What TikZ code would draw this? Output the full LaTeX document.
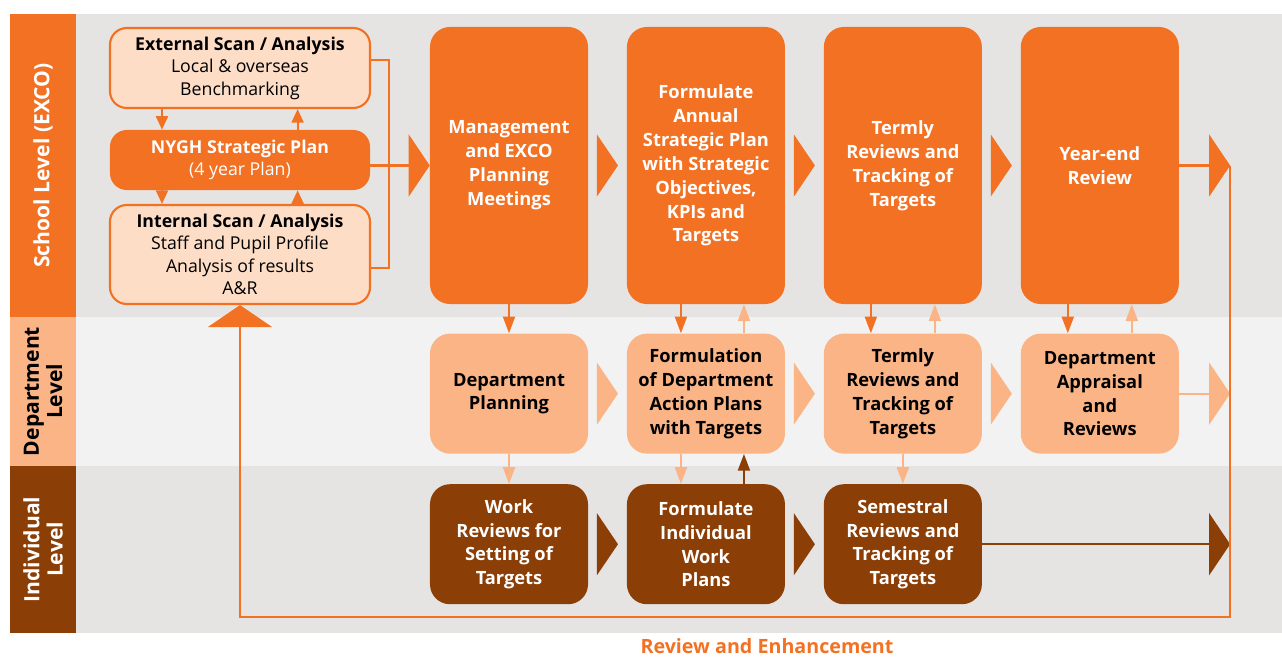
\documentclass[tikz,border=0pt]{standalone}
\usepackage{fontspec}
\setmainfont{Open Sans}
\usepackage{xcolor}
\definecolor{nyorange}{RGB}{243,113,35}
\definecolor{nylight}{RGB}{250,180,133}
\definecolor{nypeach}{RGB}{253,221,198}
\definecolor{nybrown}{RGB}{139,62,5}
\definecolor{bandgray}{RGB}{229,228,226}
\definecolor{bandlight}{RGB}{242,242,242}
\usepackage{tikz}
\usetikzlibrary{arrows.meta,positioning,calc}
\tikzset{
  lvl_tag/.style={rectangle,rotate=90,align=center,inner sep=0pt,
    font=\fontsize{15}{16.5}\selectfont\bfseries},
  scan_box/.style={rectangle,rounded corners=0.42cm,
    draw=nyorange,line width=1.5pt,fill=nypeach,
    minimum width=6.5cm,align=center,inner sep=2pt,
    font=\fontsize{12.6}{16}\selectfont},
  plan_box/.style={rectangle,rounded corners=0.42cm,
    fill=nyorange,text=white,
    minimum width=6.5cm,minimum height=1.5cm,align=center,
    font=\fontsize{12.6}{16}\selectfont},
  top_box/.style={rectangle,rounded corners=0.5cm,
    fill=nyorange,text=white,
    minimum width=3.95cm,minimum height=6.925cm,align=center,
    font=\fontsize{13}{17}\selectfont\bfseries},
  dept_box/.style={top_box,fill=nylight,text=black,minimum height=3cm},
  ind_box/.style={top_box,fill=nybrown,text=white,minimum height=3cm},
  sm_arr/.style={-{Triangle[length=#1,width=0.3cm]},line width=1.5pt},
  sm_arr/.default=0.42cm,
  big_arr/.style={-{Triangle[length=0.525cm,width=1.55cm]},line width=1.5pt},
  fb_line/.style={draw=nyorange,line width=1.5pt},
}
% filled chevron half way between two nodes
\newcommand{\chevto}[3]{%
  \fill[#1] ($(#2.east)!0.5!(#3.west)$) ++(-10.5,-31) -- ++(21,31) -- ++(-21,31) -- cycle;}

\begin{document}
\begin{tikzpicture}[x=0.025cm,y=-0.025cm]
  \useasboundingbox (0,0) rectangle (1282,657);
  % level bands
  \fill[bandgray]  (76,14)  rectangle (1282,317);
  \fill[bandlight] (76,317) rectangle (1282,466);
  \fill[bandgray]  (76,466) rectangle (1282,633);
  \node (lv_school) [lvl_tag,fill=nyorange,text=white,
    minimum width=7.575cm,minimum height=1.65cm] at (43,165.5) {School Level (EXCO)};
  \node (lv_dept) [lvl_tag,fill=nylight,text=black,
    minimum width=3.725cm,minimum height=1.65cm] at (43,391.5) {Department\\Level};
  \node (lv_ind) [lvl_tag,fill=nybrown,text=white,
    minimum width=4.175cm,minimum height=1.65cm] at (43,549.5) {Individual\\Level};

  % scans and strategic plan
  \node (ext) [scan_box,minimum height=2cm] at (240,68)
    {\textbf{External Scan / Analysis}\\Local \& overseas\\Benchmarking};
  \node (nygh) [plan_box] at (240,160)
    {\textbf{NYGH Strategic Plan}\\(4 year Plan)};
  \node (int) [scan_box,minimum height=2.475cm] at (240,254.5)
    {\textbf{Internal Scan / Analysis}\\Staff and Pupil Profile\\Analysis of results\\A\&R};

  % school level
  \node (mgmt) [top_box] at (509,165.5) {Management\\and EXCO\\Planning\\Meetings};
  \node (annual) [top_box,right=0.958cm of mgmt]
    {Formulate\\Annual\\Strategic Plan\\with Strategic\\Objectives,\\KPIs and\\Targets};
  \node (term) [top_box,right=0.958cm of annual] {Termly\\Reviews and\\Tracking of\\Targets};
  \node (year) [top_box,right=0.958cm of term] {Year-end\\Review};

  % department level
  \node (dplan) [dept_box,below=0.725cm of mgmt] {Department\\Planning};
  \node (dform) [dept_box,below=0.725cm of annual]
    {Formulation\\of Department\\Action Plans\\with Targets};
  \node (dterm) [dept_box,below=0.725cm of term] {Termly\\Reviews and\\Tracking of\\Targets};
  \node (dappr) [dept_box,below=0.725cm of year] {Department\\Appraisal\\and\\Reviews};

  % individual level
  \node (work) [ind_box,below=0.75cm of dplan] {Work\\Reviews for\\Setting of\\Targets};
  \node (iform) [ind_box,below=0.75cm of dform] {Formulate\\Individual\\Work\\Plans};
  \node (sem) [ind_box,below=0.75cm of dterm] {Semestral\\Reviews and\\Tracking of\\Targets};

  % chevrons
  \chevto{nyorange}{mgmt}{annual}
  \chevto{nyorange}{annual}{term}
  \chevto{nyorange}{term}{year}
  \chevto{nylight}{dplan}{dform}
  \chevto{nylight}{dform}{dterm}
  \chevto{nylight}{dterm}{dappr}
  \chevto{nybrown}{work}{iform}
  \chevto{nybrown}{iform}{sem}

  % scans <-> plan
  \draw[sm_arr=0.34cm,nyorange] ([xshift=-1.95cm]ext.south) -- ([xshift=-1.95cm]nygh.north);
  \draw[sm_arr=0.34cm,nyorange] ([xshift=1.44cm]nygh.north) -- ([xshift=1.44cm]ext.south);
  \draw[sm_arr=0.34cm,nyorange] ([xshift=-1.95cm]nygh.south) -- ([xshift=-1.95cm]int.north);
  \draw[sm_arr=0.34cm,nyorange] ([xshift=1.44cm]int.north) -- ([xshift=1.44cm]nygh.south);
  \draw[fb_line] ([yshift=0.2cm]ext.east) -- ++(18,0) |- ([yshift=-0.34cm]int.east);
  \draw[big_arr,nyorange] (nygh.east |- mgmt.west) -- (mgmt.west);

  % between levels
  \draw[sm_arr,nyorange] (mgmt) -- (dplan);
  \draw[sm_arr,nyorange] ([xshift=-0.625cm]annual.south) -- ([xshift=-0.625cm]dform.north);
  \draw[sm_arr,nylight] ([xshift=0.95cm]dform.north) -- ([xshift=0.95cm]annual.south);
  \draw[sm_arr,nyorange] ([xshift=-0.8cm]term.south) -- ([xshift=-0.8cm]dterm.north);
  \draw[sm_arr,nylight] ([xshift=0.8cm]dterm.north) -- ([xshift=0.8cm]term.south);
  \draw[sm_arr,nyorange] ([xshift=-0.8cm]year.south) -- ([xshift=-0.8cm]dappr.north);
  \draw[sm_arr,nylight] ([xshift=0.8cm]dappr.north) -- ([xshift=0.8cm]year.south);
  \draw[sm_arr,nylight] (dplan) -- (work);
  \draw[sm_arr,nylight] ([xshift=-0.625cm]dform.south) -- ([xshift=-0.625cm]iform.north);
  \draw[sm_arr,nybrown] ([xshift=0.95cm]iform.north) -- ([xshift=0.95cm]dform.south);
  \draw[sm_arr,nylight] (dterm) -- (sem);

  % review loop
  \coordinate (fb_top) at ([xshift=1.275cm]year.east);
  \coordinate (fb_bot) at ([yshift=-11.29cm]fb_top);
  \draw[big_arr,nyorange] (year.east) -- (fb_top);
  \draw[big_arr,nylight] (dappr.east) -- (dappr.east -| fb_top);
  \draw[big_arr,nybrown] (sem.east) -- (sem.east -| fb_top);
  \draw[fb_line,-{Triangle[length=0.55cm,width=1.6cm]}] (fb_top) -- (fb_bot) -| (int.south);
  \node (rev) [anchor=base,inner sep=1pt,text=nyorange,
    font=\fontsize{14}{17}\selectfont\bfseries]
    at (767,653) {Review and Enhancement};
\end{tikzpicture}
\end{document}
